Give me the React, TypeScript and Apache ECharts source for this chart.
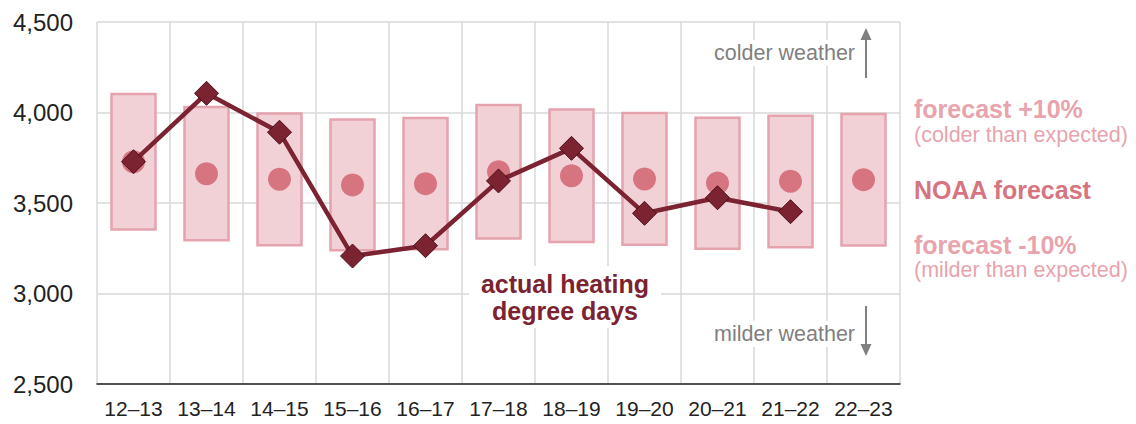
import React, { useEffect, useRef } from "react";
import * as echarts from "echarts";

const seasons = ["12–13", "13–14", "14–15", "15–16", "16–17", "17–18", "18–19", "19–20", "20–21", "21–22", "22–23"];
const noaaForecast = [3728, 3662, 3631, 3600, 3607, 3673, 3651, 3633, 3610, 3620, 3629];
const forecastHigh = [4102, 4030, 3995, 3961, 3969, 4041, 4017, 3997, 3971, 3982, 3992];
const forecastLow = [3353, 3294, 3267, 3239, 3245, 3304, 3284, 3269, 3247, 3256, 3265];
const actualHDD: (number | null)[] = [3728, 4106, 3891, 3207, 3264, 3622, 3802, 3443, 3529, 3452, null];
const yTicks = { min: 2500, max: 4500, interval: 500 };

const FONT = "'Liberation Sans', Arial, sans-serif";

export default function App() {
  const ref = useRef<HTMLDivElement>(null);
  useEffect(() => {
    document.body.style.margin = "0";
    const chart = echarts.init(ref.current!, null, { renderer: "svg" });
    const boxData = seasons.map((_, i) => [i, forecastLow[i], forecastHigh[i]]);
    chart.setOption({
      animation: false,
      textStyle: { fontFamily: FONT },
      grid: { left: 97, right: 236, top: 22, bottom: 40 },
      xAxis: {
        type: "category",
        data: seasons,
        boundaryGap: true,
        axisLine: { show: true, lineStyle: { color: "#222", width: 1.5 } },
        axisTick: { show: false, interval: 0 },
        axisLabel: { color: "#222", fontSize: 21, margin: 14, fontFamily: FONT, interval: 0 },
        splitLine: { show: true, interval: 0, lineStyle: { color: "#d9d9d9", width: 1.5 } },
      },
      yAxis: {
        type: "value",
        min: yTicks.min,
        max: yTicks.max,
        interval: yTicks.interval,
        axisLine: { show: false },
        axisTick: { show: false },
        axisLabel: {
          color: "#222",
          fontSize: 24,
          margin: 24,
          fontFamily: FONT,
          formatter: (v: number) => v.toLocaleString("en-US"),
        },
        splitLine: { show: true, lineStyle: { color: "#d9d9d9", width: 1.5 } },
      },
      series: [
        {
          type: "custom",
          name: "forecast range",
          data: boxData,
          encode: { x: 0, y: [1, 2] },
          z: 1,
          renderItem: (params: any, api: any) => {
            const i = api.value(0);
            const lo = api.coord([i, api.value(1)]);
            const hi = api.coord([i, api.value(2)]);
            const w = 44;
            return {
              type: "rect",
              shape: { x: lo[0] - w / 2, y: hi[1], width: w, height: lo[1] - hi[1] },
              style: { fill: "#f1d1d6", stroke: "#e5a3ad", lineWidth: 2.5 },
            };
          },
        },
        {
          type: "scatter",
          name: "NOAA forecast",
          data: noaaForecast,
          symbol: "circle",
          symbolSize: 23,
          itemStyle: { color: "#d6757f", opacity: 1 },
          z: 2,
        },
        {
          type: "line",
          name: "actual",
          data: actualHDD,
          symbol: "diamond",
          symbolSize: 24,
          lineStyle: { color: "#7b2330", width: 4.5 },
          itemStyle: { color: "#7b2330", borderColor: "#4a0f18", borderWidth: 1 },
          z: 3,
        },
      ],
      graphic: [
        {
          type: "text",
          x: 565,
          y: 266,
          z: 10,
          style: {
            text: "actual heating\ndegree days",
            fill: "#7b2330",
            font: "bold 25px " + FONT,
            align: "center",
            verticalAlign: "top",
            lineHeight: 27,
            backgroundColor: "#fff",
            padding: [4, 12, 4, 12],
          },
        },
        {
          type: "text",
          right: 1136 - 858,
          top: 40,
          z: 10,
          style: {
            text: "colder weather",
            fill: "#7f7f7f",
            font: "21.5px " + FONT,
            backgroundColor: "#fff",
            padding: [2, 3, 2, 3],
          },
        },
        {
          type: "text",
          right: 1136 - 858,
          top: 321,
          z: 10,
          style: {
            text: "milder weather",
            fill: "#7f7f7f",
            font: "21.5px " + FONT,
            backgroundColor: "#fff",
            padding: [2, 3, 2, 3],
          },
        },
        { type: "line", z: 10, shape: { x1: 866, y1: 78, x2: 866, y2: 38 }, style: { stroke: "#808080", lineWidth: 2 } },
        { type: "polygon", z: 10, shape: { points: [[860.5, 40], [871.5, 40], [866, 28]] }, style: { fill: "#808080" } },
        { type: "line", z: 10, shape: { x1: 866, y1: 306, x2: 866, y2: 346 }, style: { stroke: "#808080", lineWidth: 2 } },
        { type: "polygon", z: 10, shape: { points: [[860.5, 344], [871.5, 344], [866, 356]] }, style: { fill: "#808080" } },
        {
          type: "text",
          left: 914,
          top: 96,
          style: { text: "forecast +10%", fill: "#e8a3ad", font: "bold 25px " + FONT },
        },
        {
          type: "text",
          left: 914,
          top: 124,
          style: { text: "(colder than expected)", fill: "#e8a3ad", font: "21.5px " + FONT },
        },
        {
          type: "text",
          left: 914,
          top: 177,
          style: { text: "NOAA forecast", fill: "#d6757f", font: "bold 25px " + FONT },
        },
        {
          type: "text",
          left: 914,
          top: 232,
          style: { text: "forecast -10%", fill: "#e8a3ad", font: "bold 25px " + FONT },
        },
        {
          type: "text",
          left: 914,
          top: 259,
          style: { text: "(milder than expected)", fill: "#e8a3ad", font: "21.5px " + FONT },
        },
      ],
    });
    return () => chart.dispose();
  }, []);
  return <div ref={ref} style={{ width: 1136, height: 424, position: "absolute", left: 0, top: 0 }} />;
}
